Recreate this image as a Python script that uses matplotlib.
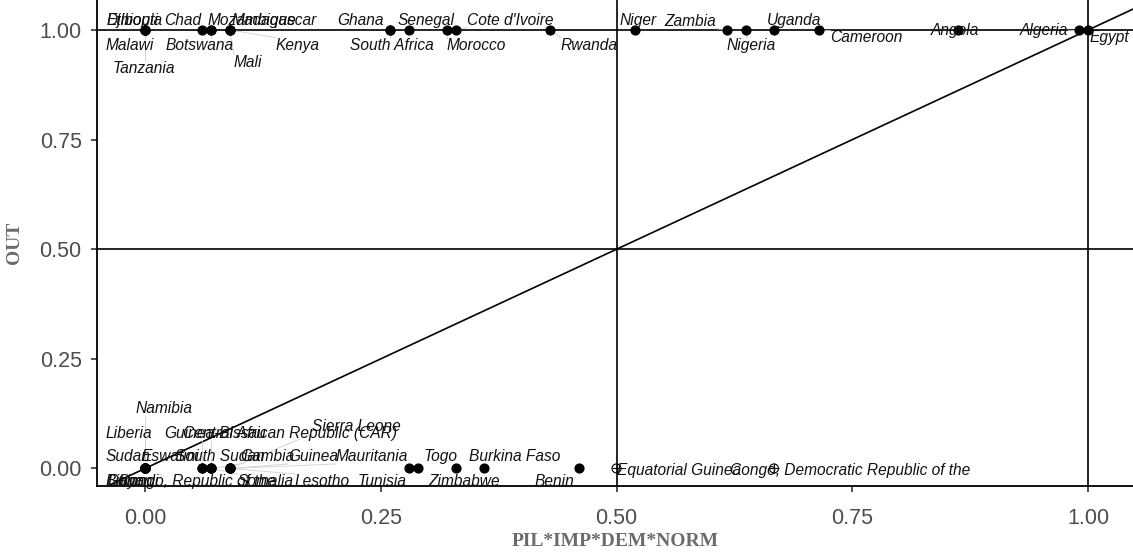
import matplotlib
matplotlib.use("Agg")
import matplotlib.pyplot as plt

# countries scored on PIL*IMP*DEM*NORM (x) and OUT (y)
countries = [
    "Djibouti", "Ethiopia", "Malawi", "Tanzania", "Chad", "Botswana", "Mozambique",
    "Madagascar", "Mali", "Kenya", "Ghana", "South Africa", "Senegal", "Morocco",
    "Cote d'Ivoire", "Rwanda", "Niger", "Zambia", "Nigeria", "Uganda", "Cameroon",
    "Angola", "Algeria", "Egypt",
    "Namibia", "Liberia", "Sudan", "Eswatini", "Burundi", "Gabon", "Libya",
    "Congo, Republic of the", "Guinea-Bissau", "Central African Republic (CAR)",
    "South Sudan", "Gambia", "Somalia", "Guinea", "Sierra Leone", "Lesotho",
    "Mauritania", "Tunisia", "Togo", "Zimbabwe", "Burkina Faso", "Benin",
]
pil = [
    0.0, 0.0, 0.0, 0.0, 0.06, 0.07, 0.07,
    0.09, 0.09, 0.09, 0.26, 0.26, 0.28, 0.32,
    0.33, 0.43, 0.52, 0.617, 0.637, 0.667, 0.715,
    0.862, 0.99, 1.0,
    0.0, 0.0, 0.0, 0.0, 0.0, 0.0, 0.0,
    0.0, 0.06, 0.07,
    0.06, 0.07, 0.07, 0.09, 0.09, 0.09,
    0.09, 0.28, 0.29, 0.33, 0.36, 0.46,
]
out = [1] * 24 + [0] * 22

# cases drawn with the crossed open circle
countries_na = ["Equatorial Guinea", "Congo, Democratic Republic of the"]
pil_na = [0.5, 0.667]
out_na = [0, 0]

# label offsets in pixels (left edge of text, vertical centre) from each point
label_dx = [
    -38, -38, -39, -32, -37, -45, -3,
    2, 4, 46, -53, -40, -11, 0,
    11, 10, -16, -63, -19, -7, 11,
    -27, -59, 1,
    -9, -39, -39, -3, -39, -39, -37,
    -27, -37, -28,
    -27, 29, 27, 58, 82, 65,
    106, -51, 5, -28, -15, -44,
]
label_dy = [
    10, 10, -15, -38, 10, -15, 10,
    10, -32, -15, 10, -15, 10, -15,
    10, -15, 10, 9, -15, 10, -7,
    0, 0, -7,
    60, 35, 12, 12, -13, -13, -13,
    -13, 35, 35,
    12, 12, -13, 12, 42, -13,
    12, -13, 12, -13, 12, -13,
]
label_dx_na = [0, -44]
label_dy_na = [-2, -2]

W, H = 1133, 553
fig = plt.figure(figsize=(W / 100, H / 100), dpi=100)
ax = fig.add_axes([97 / W, 1 - 486 / H, 1 - 97 / W, 486 / H])

ax.set_xlim(-0.0509, 1.0477)
ax.set_ylim(-0.04, 1.0685)

# reference lines
ax.axvline(0.5, color="black", lw=1.2, zorder=1)
ax.axvline(1.0, color="black", lw=1.2, zorder=1)
ax.axhline(0.5, color="black", lw=1.2, zorder=1)
ax.axhline(1.0, color="black", lw=1.2, zorder=1)
ax.plot([-0.1, 1.1], [-0.1, 1.1], color="black", lw=1.2, zorder=1)

ax.scatter(pil, out, s=40, color="black", zorder=4)
ax.scatter(pil_na, out_na, s=42, facecolors="none", edgecolors="black", lw=0.8, zorder=4)
ax.scatter(pil_na, out_na, s=42, marker="+", color="black", lw=0.8, zorder=4)

txt_style = dict(fontsize=11.2, family="Liberation Sans", style="italic", color="#111111",
                 ha="left", va="center", textcoords="offset pixels", zorder=5)
anns = []
for name, x, y, dx, dy in zip(countries, pil, out, label_dx, label_dy):
    anns.append((ax.annotate(name, (x, y), xytext=(dx, dy), **txt_style), x, y))
for name, x, y, dx, dy in zip(countries_na, pil_na, out_na, label_dx_na, label_dy_na):
    anns.append((ax.annotate(name, (x, y), xytext=(dx, dy), **txt_style), x, y))

# grey segments from each point to its label, ggrepel style
fig.canvas.draw()
renderer = fig.canvas.get_renderer()
inv = ax.transData.inverted()
for a, x, y in anns:
    bb = a.get_window_extent(renderer)
    px, py = ax.transData.transform((x, y))
    cx = min(max(px, bb.x0), bb.x1)
    cy = min(max(py, bb.y0), bb.y1)
    if ((cx - px) ** 2 + (cy - py) ** 2) ** 0.5 > 7:
        p0 = inv.transform((px, py))
        p1 = inv.transform((cx, cy))
        ax.plot([p0[0], p1[0]], [p0[1], p1[1]], color="#cfcfcf", lw=0.6, zorder=2, clip_on=False)

for side in ["top", "right"]:
    ax.spines[side].set_visible(False)
for side in ["left", "bottom"]:
    ax.spines[side].set_linewidth(1.3)

ax.set_xticks([0, 0.25, 0.5, 0.75, 1.0])
ax.set_yticks([0, 0.25, 0.5, 0.75, 1.0])
ax.set_xticklabels(["0.00", "0.25", "0.50", "0.75", "1.00"])
ax.set_yticklabels(["0.00", "0.25", "0.50", "0.75", "1.00"])
ax.tick_params(length=4, width=1.2, color="#333333", labelsize=15.5, labelcolor="#4d4d4d")
ax.tick_params(axis="x", pad=12)
ax.tick_params(axis="y", pad=7)
for lab in ax.get_xticklabels() + ax.get_yticklabels():
    lab.set_family("Liberation Sans")

ax.set_xlabel("PIL*IMP*DEM*NORM", family="Liberation Serif", fontsize=14,
              fontweight="bold", color="#6b6b6b", labelpad=3)
ax.set_ylabel("OUT", family="Liberation Serif", fontsize=14,
              fontweight="bold", color="#6b6b6b", labelpad=12)

fig.savefig("out.png", dpi=100)
